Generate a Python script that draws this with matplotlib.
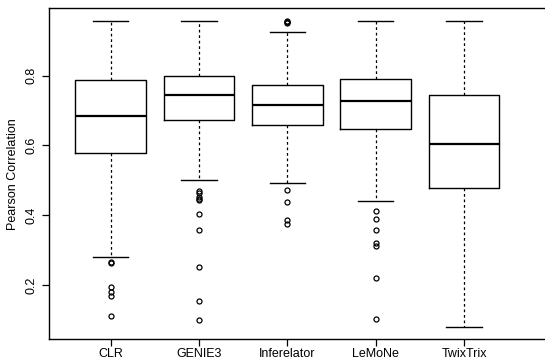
import matplotlib
matplotlib.use("Agg")
import matplotlib.pyplot as plt

plt.rcParams['font.family'] = ['Liberation Sans', 'DejaVu Sans']

methods = ["CLR", "GENIE3", "Inferelator", "LeMoNe", "TwixTrix"]
whislo = [0.279, 0.501, 0.493, 0.441, 0.079]
q1 = [0.579, 0.672, 0.659, 0.647, 0.477]
med = [0.684, 0.745, 0.716, 0.727, 0.603]
q3 = [0.787, 0.798, 0.772, 0.791, 0.743]
whishi = [0.958, 0.958, 0.924, 0.958, 0.958]
fliers = [
    [0.265, 0.263, 0.193, 0.180, 0.167, 0.110],
    [0.469, 0.463, 0.453, 0.446, 0.442, 0.403, 0.356, 0.251, 0.153, 0.100],
    [0.957, 0.955, 0.953, 0.951, 0.471, 0.439, 0.385, 0.376],
    [0.411, 0.388, 0.357, 0.320, 0.311, 0.219, 0.102],
    [],
]
yticks = [0.2, 0.4, 0.6, 0.8]

stats = []
for i, m in enumerate(methods):
    stats.append(dict(label=m, whislo=whislo[i], q1=q1[i], med=med[i],
                      q3=q3[i], whishi=whishi[i], fliers=fliers[i]))

W, H = 545, 360
fig = plt.figure(figsize=(W / 100, H / 100), dpi=100)
left, right, top, bottom = 48.7, 556, 8.3, 339.3
ax = fig.add_axes([left / W, 1 - bottom / H, (right - left) / W, (bottom - top) / H])

ax.bxp(stats, positions=range(1, 6), widths=0.8, showfliers=True,
       boxprops=dict(color='black', linewidth=1.0),
       medianprops=dict(color='black', linewidth=1.6),
       whiskerprops=dict(color='black', linewidth=0.9, linestyle=(0, (2.2, 2.2))),
       capprops=dict(color='black', linewidth=1.0),
       capwidths=0.4,
       flierprops=dict(marker='o', markersize=3.6, markerfacecolor='none',
                       markeredgecolor='black', markeredgewidth=0.9, linestyle='none'))

ax.set_xlim(0.3, 5 + (right - 464) / 88.4)
ax.set_ylim(0.044, 0.993)
ax.set_yticks(yticks)
ax.set_yticklabels([str(t) for t in yticks], rotation=90, va='center')
ax.set_xticks(range(1, 6))
ax.set_xticklabels(methods)
ax.tick_params(axis='both', direction='out', length=5, width=0.9, labelsize=9, pad=3)
ax.tick_params(axis='x', pad=1.5)
ax.set_ylabel("Pearson Correlation", fontsize=9, labelpad=5)
for s in ax.spines.values():
    s.set_linewidth(1.0)

fig.savefig("out.png", dpi=100)
